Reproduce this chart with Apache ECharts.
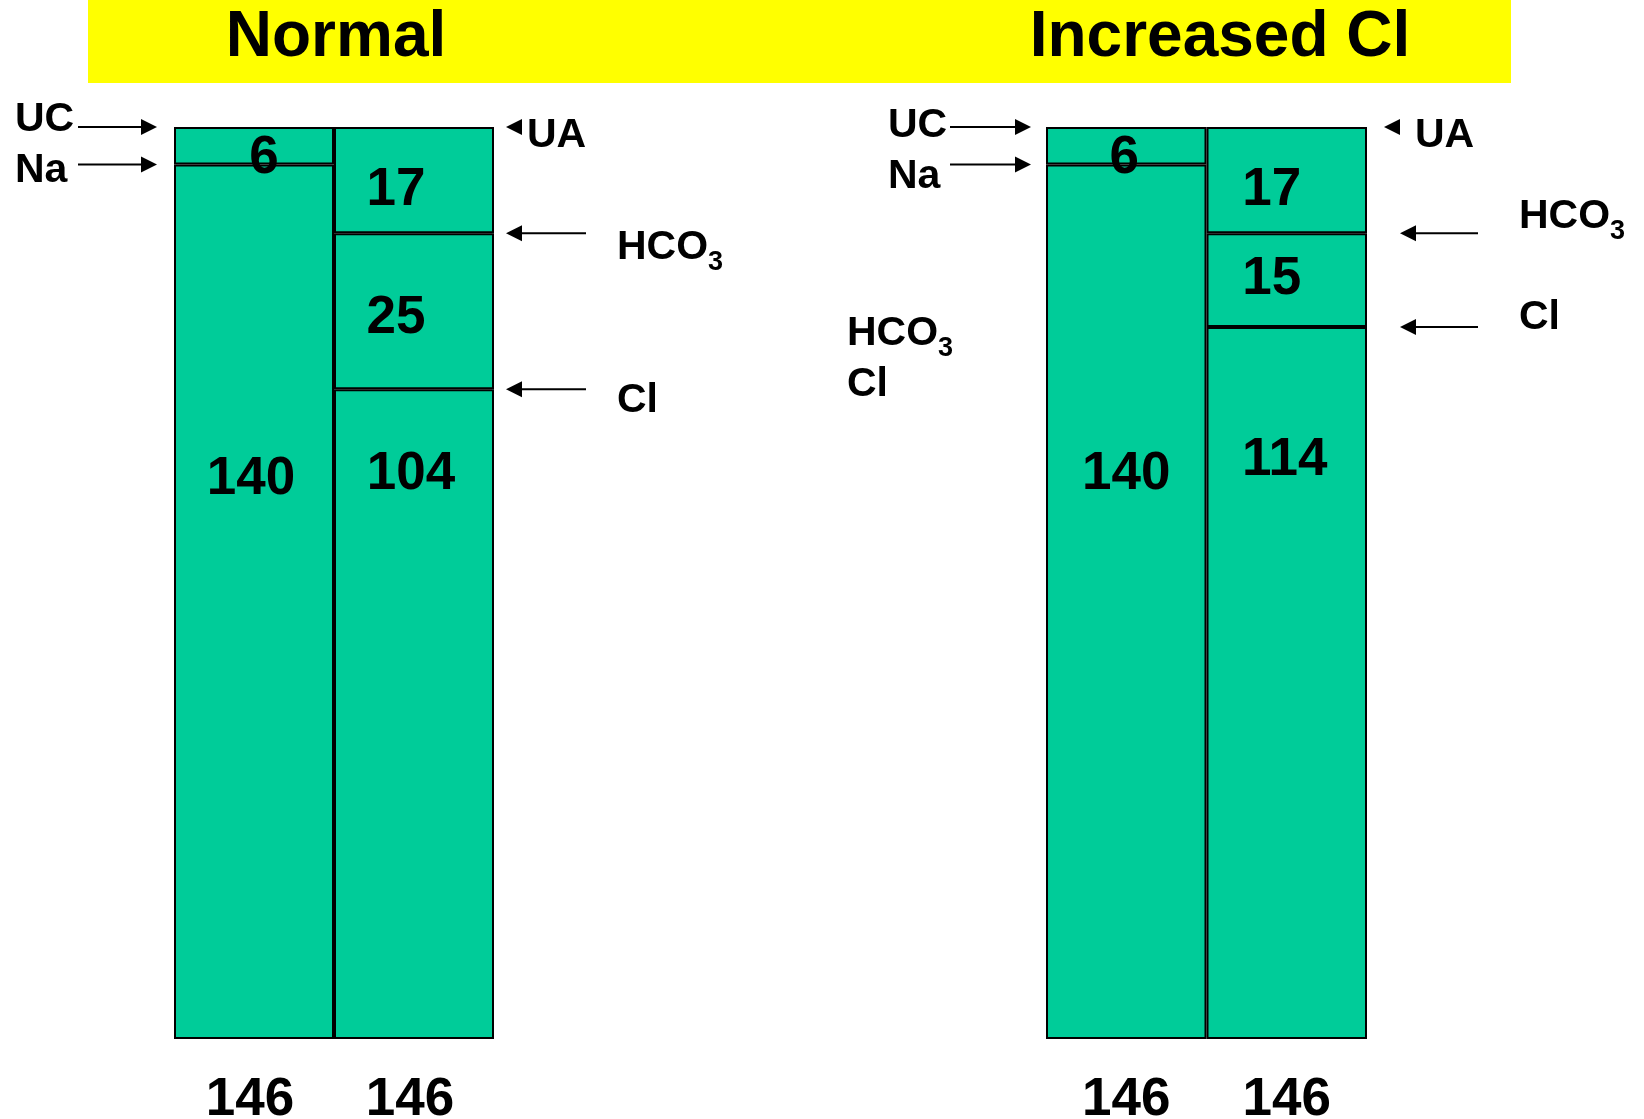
<!DOCTYPE html>
<html><head><meta charset="utf-8">
<script src="https://cdn.jsdelivr.net/npm/echarts@6/dist/echarts.min.js"></script>
<style>html,body{margin:0;padding:0;background:#fff}#c{width:1644px;height:1119px}</style>
</head><body><div id="c"></div>
<script>
// ---- data ----
const panelTitles = ['Normal', 'Increased Cl'];
const columns = ['Cations', 'Anions'];
const cationNames = ['Na', 'UC'];
const anionNames = ['Cl', 'HCO3', 'UA'];
const normalCations = [140, 6];
const normalAnions = [104, 25, 17];
const increasedCations = [140, 6];
const increasedAnions = [114, 15, 17];

// ---- style / layout ----
const FONT = '"Liberation Sans", Arial, Helvetica, sans-serif';
const GREEN = '#00CC99';
const grids = [
  {left: 174, top: 127, width: 320, height: 912},
  {left: 1046, top: 127, width: 321, height: 912}
];
const labelOffsets = [
  {Na: [-3, -122], UC: [10, 13], Cl: [-3, -240], HCO3: [-18, 7], UA: [-18, 10]},
  {Na: [0, -127], UC: [-2, 13], Cl: [-2, -223], HCO3: [-15, -1], UA: [-15, 10]}
];
const axisLabelPad = [[0, 8, 0, 0], [0, 0, 0, 0]];
const panelData = [
  {cations: normalCations, anions: normalAnions},
  {cations: increasedCations, anions: increasedAnions}
];

const sum = a => a.reduce((s, v) => s + v, 0);

function seg(p, name, data) {
  return {
    type: 'bar', name: name + p, xAxisIndex: p, yAxisIndex: p, stack: 'p' + p,
    data: data, barWidth: '100%', silent: true, animation: false,
    itemStyle: {color: GREEN, borderColor: '#000', borderWidth: 2},
    label: {
      show: true, position: 'inside', offset: labelOffsets[p][name],
      formatter: '{c}', color: '#000', fontFamily: FONT, fontWeight: 'bold', fontSize: 53
    }
  };
}

const series = [];
panelData.forEach((pd, p) => {
  cationNames.forEach((n, i) => series.push(seg(p, n, [pd.cations[i], '-'])));
  anionNames.forEach((n, j) => series.push(seg(p, n, ['-', pd.anions[j]])));
});

const chart = echarts.init(document.getElementById('c'));
chart.setOption({
  animation: false,
  backgroundColor: '#fff',
  grid: grids.map(g => Object.assign({outerBoundsMode: 'none', containLabel: false}, g)),
  xAxis: panelData.map((pd, p) => ({
    type: 'category', gridIndex: p, data: columns,
    axisLine: {show: false}, axisTick: {show: false}, splitLine: {show: false},
    axisLabel: {
      margin: 35, color: '#000', fontFamily: FONT, fontWeight: 'bold', fontSize: 53,
      padding: axisLabelPad[p],
      formatter: (v, idx) => String(idx === 0 ? sum(pd.cations) : sum(pd.anions))
    }
  })),
  yAxis: panelData.map((pd, p) => ({
    type: 'value', gridIndex: p, min: 0, max: 146, show: false, splitLine: {show: false}
  })),
  series: series
});

// ---- annotations (arrows positioned from data) ----
const DY = 5;
function txt(x, y, t, size) {
  return {type: 'text', x: x, y: y + DY, silent: true,
    style: {text: t, fill: '#000', font: 'bold ' + size + 'px ' + FONT, align: 'left', verticalAlign: 'middle'}};
}
function subTxt(x, y) {
  return {type: 'text', x: x, y: y + DY, silent: true,
    style: {text: '{a|HCO}{b|3}', align: 'left', verticalAlign: 'middle', fill: '#000',
      rich: {
        a: {fontFamily: FONT, fontWeight: 'bold', fontSize: 41, fill: '#000', color: '#000'},
        b: {fontFamily: FONT, fontWeight: 'bold', fontSize: 27, padding: [29, 0, 0, 0], fill: '#000', color: '#000'}
      }}};
}
function arrowRight(x1, x2, y) {
  return [
    {type: 'line', silent: true, shape: {x1: x1, y1: y, x2: x2 - 12, y2: y}, style: {stroke: '#000', lineWidth: 2}},
    {type: 'polygon', silent: true, shape: {points: [[x2 - 16, y - 8], [x2, y], [x2 - 16, y + 8]]}, style: {fill: '#000'}}
  ];
}
function arrowLeft(xTip, xTail, y) {
  const els = [{type: 'polygon', silent: true, shape: {points: [[xTip, y], [xTip + 16, y - 8], [xTip + 16, y + 8]]}, style: {fill: '#000'}}];
  if (xTail > xTip + 16) els.push({type: 'line', silent: true, shape: {x1: xTip + 12, y1: y, x2: xTail, y2: y}, style: {stroke: '#000', lineWidth: 2}});
  return els;
}
const py = (p, v) => chart.convertToPixel({yAxisIndex: p}, v);

const els = [];
els.push({type: 'rect', silent: true, z: -1, shape: {x: 88, y: 0, width: 1423, height: 83}, style: {fill: '#FFFF00'}});
els.push({type: 'text', x: 336, y: 38, silent: true, style: {text: panelTitles[0], fill: '#000', font: 'bold 64px ' + FONT, align: 'center', verticalAlign: 'middle'}});
els.push({type: 'text', x: 1220, y: 38, silent: true, style: {text: panelTitles[1], fill: '#000', font: 'bold 64px ' + FONT, align: 'center', verticalAlign: 'middle'}});

// panel 0
{
  const pd = panelData[0];
  const yUC = py(0, sum(pd.cations)), yNa = py(0, pd.cations[0]);
  const yUA = py(0, sum(pd.anions)), yHCO3 = py(0, pd.anions[0] + pd.anions[1]), yCl = py(0, pd.anions[0]);
  els.push(...arrowRight(78, 157, yUC), ...arrowRight(78, 157, yNa));
  els.push(...arrowLeft(506, 506, yUA), ...arrowLeft(506, 586, yHCO3), ...arrowLeft(506, 586, yCl));
  els.push(txt(15, 115, 'UC', 41), txt(15, 166, 'Na', 41), txt(527, 131, 'UA', 41));
  els.push(subTxt(617, 243), txt(617, 396, 'Cl', 41));
}
// panel 1
{
  const pd = panelData[1];
  const yUC = py(1, sum(pd.cations)), yNa = py(1, pd.cations[0]);
  const yUA = py(1, sum(pd.anions)), yHCO3 = py(1, pd.anions[0] + pd.anions[1]), yCl = py(1, pd.anions[0]);
  els.push(...arrowRight(950, 1031, yUC), ...arrowRight(950, 1031, yNa));
  els.push(...arrowLeft(1384, 1384, yUA), ...arrowLeft(1400, 1478, yHCO3), ...arrowLeft(1400, 1478, yCl));
  els.push(txt(888, 121, 'UC', 41), txt(888, 172, 'Na', 41), txt(1415, 131, 'UA', 41));
  els.push(subTxt(1519, 212), txt(1519, 313, 'Cl', 41));
  els.push(subTxt(847, 329), txt(847, 380, 'Cl', 41));
}
chart.setOption({graphic: {elements: els}});
</script>
</body></html>
